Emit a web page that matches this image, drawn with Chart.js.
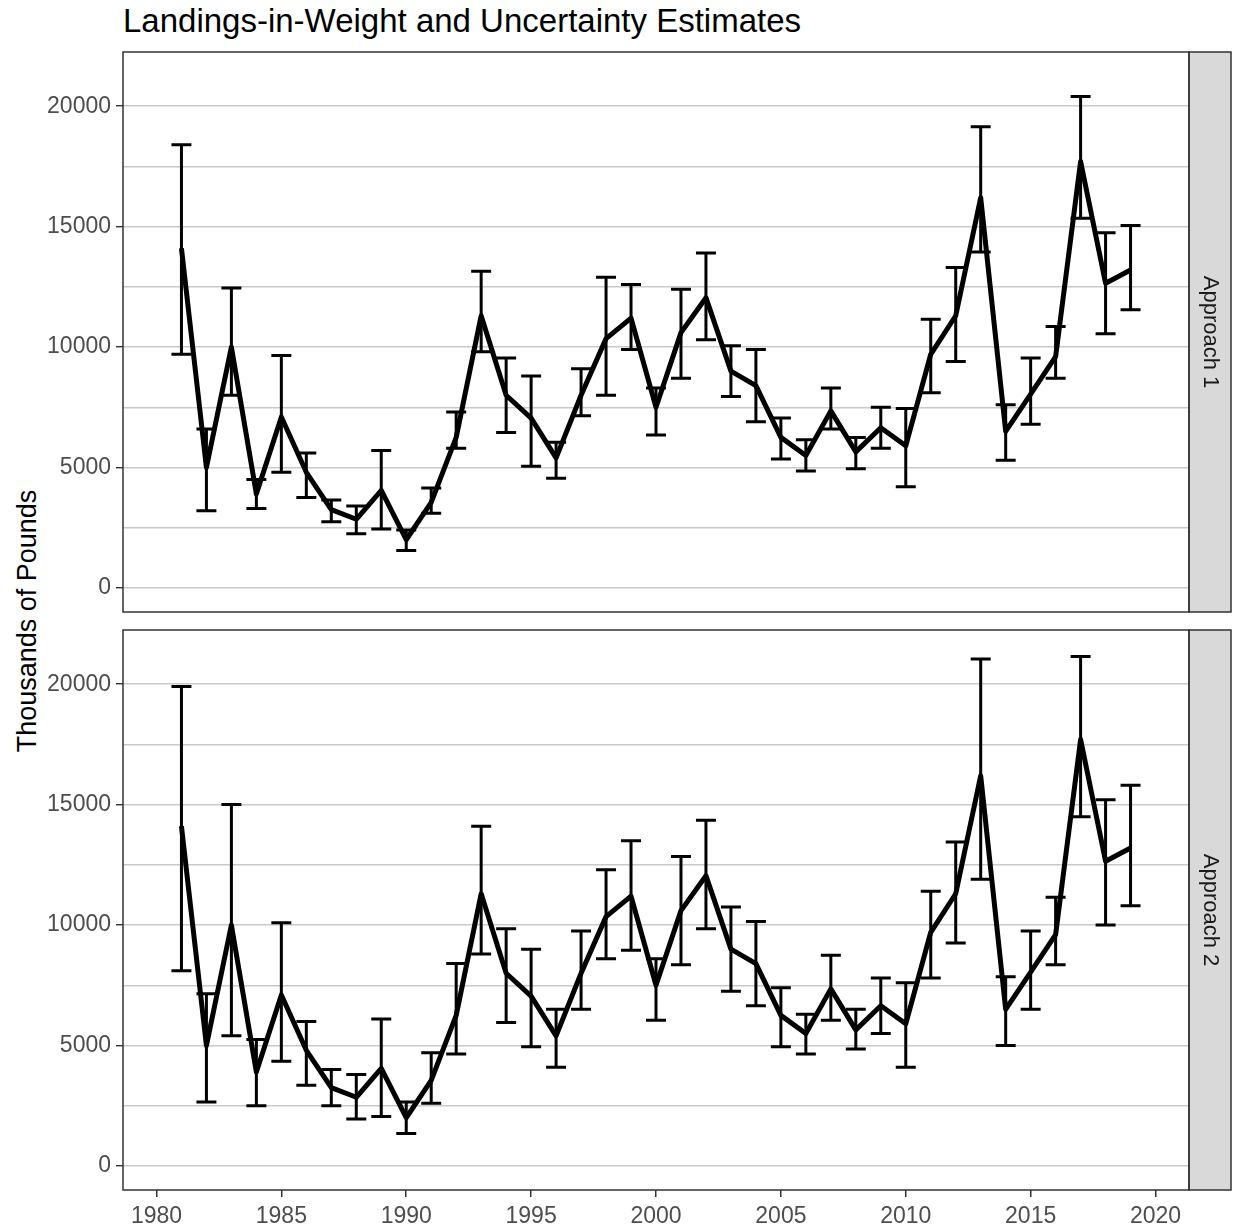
<!DOCTYPE html>
<html lang="en">
<head>
<meta charset="UTF-8">
<title>Landings-in-Weight and Uncertainty Estimates</title>
<style>
  body { margin: 0; background: #fff; font-family: "Liberation Sans", Arial, sans-serif; }
  #wrap { position: relative; width: 1235px; height: 1230px; }
  #title { position: absolute; left: 123px; top: 4px; font-size: 33px; line-height: 33px; color: #000; white-space: nowrap; }
  #ytitle { position: absolute; left: 27px; top: 621px; font-size: 27px; color: #000; white-space: nowrap;
            transform: translate(-50%, -50%) rotate(-90deg); }
  canvas { position: absolute; left: 0; }
  #panel1 { top: 0; }
  #panel2 { top: 600px; }
</style>
</head>
<body>
<div id="wrap">
  <div id="title">Landings-in-Weight and Uncertainty Estimates</div>
  <div id="ytitle">Thousands of Pounds</div>
  <canvas id="panel1" width="1235" height="640"></canvas>
  <canvas id="panel2" width="1235" height="630"></canvas>
</div>

<script src="https://cdn.jsdelivr.net/npm/chart.js@4.4.1/dist/chart.umd.min.js"></script>
<script>
// data (thousands of pounds)
const years = [1981, 1982, 1983, 1984, 1985, 1986, 1987, 1988, 1989, 1990,
               1991, 1992, 1993, 1994, 1995, 1996, 1997, 1998, 1999, 2000,
               2001, 2002, 2003, 2004, 2005, 2006, 2007, 2008, 2009, 2010,
               2011, 2012, 2013, 2014, 2015, 2016, 2017, 2018, 2019];
const landings = [14100, 5000, 10000, 3900, 7100, 4800, 3250, 2850, 4050, 2000,
                  3550, 6250, 11300, 8000, 7050, 5400, 8000, 10350, 11200, 7500,
                  10600, 12050, 9000, 8400, 6250, 5500, 7350, 5650, 6650, 5900,
                  9700, 11300, 16200, 6500, 8050, 9600, 17700, 12650, 13200];

// Approach 1 interval
const lower1 = [9700, 3200, 8000, 3300, 4800, 3750, 2750, 2250, 2450, 1550,
                3100, 5800, 9800, 6450, 5050, 4550, 7150, 8000, 9900, 6350,
                8700, 10300, 7950, 6900, 5350, 4850, 6600, 4950, 5800, 4200,
                8100, 9400, 13950, 5300, 6800, 8700, 15350, 10550, 11550];
const upper1 = [18400, 6600, 12450, 4500, 9650, 5600, 3650, 3400, 5700, 2400,
                4150, 7300, 13150, 9550, 8800, 6050, 9100, 12900, 12600, 8300,
                12400, 13900, 10050, 9900, 7050, 6150, 8300, 6250, 7500, 7450,
                11150, 13300, 19150, 7600, 9550, 10850, 20400, 14750, 15050];

// Approach 2 interval
const lower2 = [8100, 2650, 5400, 2500, 4350, 3350, 2500, 1950, 2050, 1350,
                2600, 4650, 8800, 5950, 4950, 4100, 6500, 8600, 8950, 6050,
                8350, 9850, 7250, 6650, 4950, 4650, 6050, 4850, 5500, 4100,
                7800, 9250, 11900, 5000, 6500, 8350, 14500, 10000, 10800];
const upper2 = [19900, 7150, 15000, 5250, 10100, 6000, 4000, 3800, 6100, 2650,
                4700, 8400, 14100, 9850, 9000, 6500, 9750, 12300, 13500, 8600,
                12850, 14350, 10750, 10150, 7400, 6300, 8750, 6500, 7800, 7600,
                11400, 13450, 21050, 7850, 9750, 11150, 21150, 15200, 15800];

const xTicks = [1980, 1985, 1990, 1995, 2000, 2005, 2010, 2015, 2020];
const yTicks = [0, 2500, 5000, 7500, 10000, 12500, 15000, 17500, 20000];

const FONT = '"Liberation Sans", Arial, sans-serif';
const CAP = 0.4; // half width of error bar caps, in years

// error bars drawn through the chart scales
const errorBars = {
  id: 'errorBars',
  beforeDatasetsDraw(chart) {
    const { ctx, scales: { x, y } } = chart;
    const ds = chart.data.datasets[0];
    ctx.save();
    ctx.strokeStyle = '#000';
    ctx.lineWidth = 3;
    ctx.lineCap = 'butt';
    ds.errLow.forEach((lo, i) => {
      const yr = years[i];
      const px = x.getPixelForValue(yr);
      const x0 = x.getPixelForValue(yr - CAP);
      const x1 = x.getPixelForValue(yr + CAP);
      const yl = y.getPixelForValue(lo);
      const yh = y.getPixelForValue(ds.errHigh[i]);
      ctx.beginPath();
      ctx.moveTo(px, yl); ctx.lineTo(px, yh);
      ctx.moveTo(x0, yl); ctx.lineTo(x1, yl);
      ctx.moveTo(x0, yh); ctx.lineTo(x1, yh);
      ctx.stroke();
    });
    ctx.restore();
  }
};

// panel border + facet strip on the right
const facetFrame = {
  id: 'facetFrame',
  afterDraw(chart) {
    const { ctx, chartArea: a } = chart;
    const label = chart.data.datasets[0].facet;
    const w = 42;
    ctx.save();
    ctx.fillStyle = '#D9D9D9';
    ctx.fillRect(a.right, a.top, w, a.bottom - a.top);
    ctx.strokeStyle = '#333333';
    ctx.lineWidth = 1.5;
    ctx.strokeRect(a.left, a.top, a.right - a.left, a.bottom - a.top);
    ctx.strokeRect(a.right, a.top, w, a.bottom - a.top);
    ctx.translate(a.right + w / 2, (a.top + a.bottom) / 2);
    ctx.rotate(Math.PI / 2);
    ctx.fillStyle = '#1A1A1A';
    ctx.font = '22px ' + FONT;
    ctx.textAlign = 'center';
    ctx.textBaseline = 'middle';
    ctx.fillText(label, 0, 0);
    ctx.restore();
  }
};

function makePanel(id, lower, upper, facet, showX) {
  const ctx = document.getElementById(id).getContext('2d');
  return new Chart(ctx, {
    type: 'line',
    data: {
      datasets: [{
        data: years.map((yr, i) => ({ x: yr, y: landings[i] })),
        errLow: lower,
        errHigh: upper,
        facet: facet,
        borderColor: '#000',
        borderWidth: 5,
        borderJoinStyle: 'round',
        pointRadius: 0,
        tension: 0
      }]
    },
    options: {
      responsive: false,
      animation: false,
      layout: { padding: showX ? { top: 30, bottom: 0, left: 0, right: 46 }
                               : { top: 52, bottom: 28, left: 0, right: 46 } },
      plugins: { legend: { display: false }, tooltip: { enabled: false } },
      scales: {
        x: {
          type: 'linear',
          display: showX,
          min: 1978.66,
          max: 2021.34,
          afterBuildTicks: s => { s.ticks = xTicks.map(v => ({ value: v })); },
          afterFit: s => { if (showX) s.height = 40; },
          border: { display: false },
          grid: { drawOnChartArea: false, tickLength: 7, tickColor: '#333333', lineWidth: 1.5 },
          ticks: { autoSkip: false, maxRotation: 0, padding: 6, color: '#4D4D4D',
                   font: { family: FONT, size: 23 }, callback: v => String(v) }
        },
        y: {
          min: -1000,
          max: 22250,
          afterBuildTicks: s => { s.ticks = yTicks.map(v => ({ value: v })); },
          afterFit: s => { s.width = 123; },
          border: { display: false },
          grid: {
            color: '#C9C9C9',
            lineWidth: 1.4,
            tickLength: 7,
            tickColor: c => (c.tick && c.tick.value % 5000 === 0) ? '#333333' : 'rgba(0,0,0,0)'
          },
          ticks: { autoSkip: false, padding: 5, color: '#4D4D4D', font: { family: FONT, size: 23 },
                   callback: v => (v % 5000 === 0 ? String(v) : '') }
        }
      }
    },
    plugins: [errorBars, facetFrame]
  });
}

makePanel('panel1', lower1, upper1, 'Approach 1', false);
makePanel('panel2', lower2, upper2, 'Approach 2', true);
</script>
</body>
</html>
